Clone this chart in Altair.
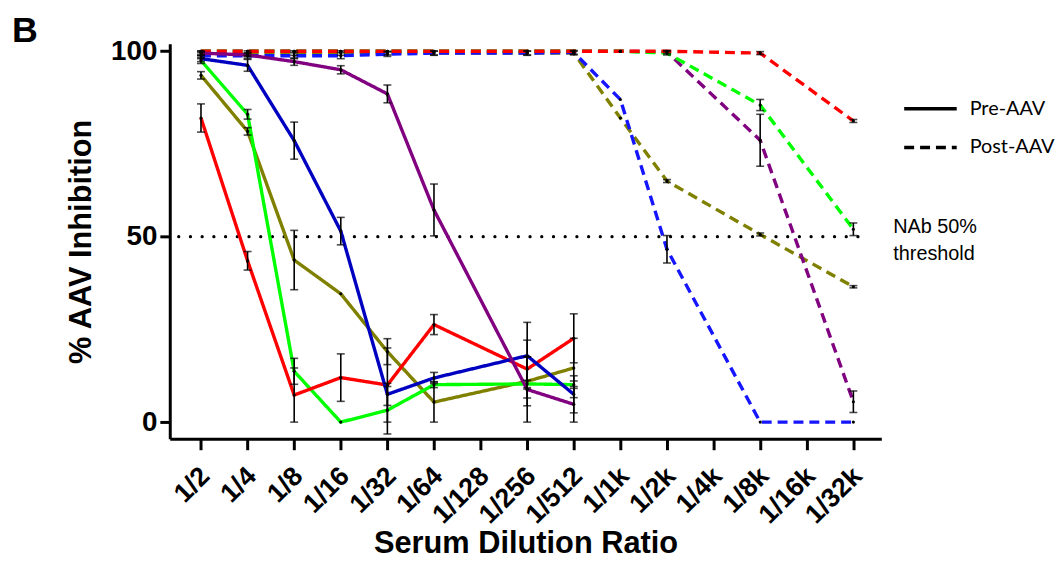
import json
import altair as alt
import pandas as pd

# ---------------- data ----------------
labels = ["1/2", "1/4", "1/8", "1/16", "1/32", "1/64", "1/128", "1/256", "1/512",
          "1/1k", "1/2k", "1/4k", "1/8k", "1/16k", "1/32k"]

pre_x = ["1/2", "1/4", "1/8", "1/16", "1/32", "1/64", "1/256", "1/512"]
pre_red = [82, 43.5, 7.3, 12, 10, 26.3, 14.3, 22.6]
pre_red_err = [3.8, 2.5, 7.3, 6.4, 10, 2.7, 7.8, 6.6]
pre_green = [97.5, 83, 13.7, 0, 3.2, 10.1, 10.3, 10.1]
pre_green_err = [0.8, 1.3, 3.5, 0, 6.4, 0.8, 1, 1]
pre_blue = [98, 96.2, 75.9, 51.5, 7.5, 11.9, 17.9, 7.5]
pre_blue_err = [0.8, 1.6, 5, 3.7, 3, 1.5, 9, 5]
pre_purple = [99.5, 99, 97.2, 95, 88.5, 57.2, 8.8, 4.8]
pre_purple_err = [0.5, 0.5, 1, 1.1, 2.4, 7, 8.8, 4.8]
pre_olive = [93.5, 78.4, 43.7, 34.6, 19, 5.4, 11, 14.6]
pre_olive_err = [1, 1, 8, 0, 3.5, 5.4, 6.6, 8]

post_x = ["1/2", "1/4", "1/8", "1/16", "1/32", "1/64", "1/256", "1/512",
          "1/1k", "1/2k", "1/8k", "1/32k"]
post_red = [100, 100, 100, 100, 100, 100, 100, 100, 100, 100, 99.5, 81.2]
post_red_err = [0, 0, 0, 0, 0, 0, 0, 0, 0, 0, 0.4, 0.4]
post_green = [100, 100, 100, 100, 100, 100, 100, 100, 100, 99.5, 85.5, 52]
post_green_err = [0, 0, 0, 0, 0, 0, 0, 0, 0, 0.5, 1.5, 1.7]
post_blue = [98.8, 98.8, 98.8, 98.8, 99.2, 99.5, 99.5, 99.7, 87, 46.6, 0, 0]
post_blue_err = [0.8, 0.8, 0.8, 0.8, 0.6, 0.6, 0.6, 0.5, 0, 3.7, 0, 0]
post_purple = [100, 100, 100, 100, 100, 100, 100, 100, 100, 99.8, 76, 5.5]
post_purple_err = [0, 0, 0, 0, 0, 0, 0, 0, 0, 0.4, 7, 2.9]
post_olive = [99.5, 99.5, 99.5, 99.5, 99.5, 99.5, 99.5, 99.5, 82, 65, 50.6, 36.5]
post_olive_err = [0.6, 0.6, 0.6, 0.6, 0.5, 0.5, 0.5, 0.5, 0, 0.4, 0.4, 0.3]

threshold = [50]
phases = ["Pre-AAV", "Post-AAV"]

series_keys = ["olive|Post-AAV", "blue|Post-AAV", "purple|Post-AAV", "green|Post-AAV", "red|Post-AAV",
               "olive|Pre-AAV", "green|Pre-AAV", "red|Pre-AAV", "blue|Pre-AAV", "purple|Pre-AAV"]
series_colors = ["#808000", "#1515FF", "#800080", "#00FF00", "#FF0000",
                 "#808000", "#00FF00", "#FF0000", "#0000C0", "#800080"]

# ---------------- table ----------------
rows = []
post = {"olive": (post_olive, post_olive_err), "blue": (post_blue, post_blue_err),
        "purple": (post_purple, post_purple_err), "green": (post_green, post_green_err),
        "red": (post_red, post_red_err)}
pre = {"olive": (pre_olive, pre_olive_err), "green": (pre_green, pre_green_err),
       "red": (pre_red, pre_red_err), "blue": (pre_blue, pre_blue_err),
       "purple": (pre_purple, pre_purple_err)}
for name, (vals, errs) in post.items():
    for xl, v, e in zip(post_x, vals, errs):
        rows.append(dict(series=name + "|Post-AAV", phase="Post-AAV", dil=xl,
                         idx=labels.index(xl), value=v, err=e, lo=v - e, hi=v + e))
for name, (vals, errs) in pre.items():
    for xl, v, e in zip(pre_x, vals, errs):
        rows.append(dict(series=name + "|Pre-AAV", phase="Pre-AAV", dil=xl,
                         idx=labels.index(xl), value=v, err=e, lo=v - e, hi=v + e))
df = pd.DataFrame(rows)
df_err = df[df["err"] > 0]

FONT = "Liberation Sans"
W, H = 717, 398

xscale = alt.Scale(domain=[-0.67, len(labels) - 1 + 0.6], nice=False, zero=False)
yscale = alt.Scale(domain=[-4.5, 102], nice=False, zero=False)

label_expr = json.dumps(labels) + "[round(datum.value)]"

x_enc = alt.X("idx:Q", scale=xscale, title="Serum Dilution Ratio",
              axis=alt.Axis(values=list(range(len(labels))), labelExpr=label_expr,
                            labelAngle=-45, labelAlign="right", labelBaseline="middle",
                            labelFont=FONT, labelFontSize=27, labelFontWeight="bold",
                            labelColor="black", labelPadding=22, labelOffset=4,
                            labelOverlap=False, labelFlush=False, labelBound=False,
                            titleFont=FONT, titleFontSize=31, titleFontWeight="bold",
                            titleColor="black", titlePadding=1,
                            domainColor="black", domainWidth=3, tickColor="black",
                            tickWidth=3, tickSize=11, grid=False))
y_enc = alt.Y("value:Q", scale=yscale, title="% AAV Inhibition",
              axis=alt.Axis(values=[0, 50, 100], labelFont=FONT, labelFontSize=28,
                            labelFontWeight="bold", labelColor="black", labelPadding=3,
                            titleFont=FONT, titleFontSize=31, titleFontWeight="bold",
                            titleColor="black", titlePadding=13,
                            domainColor="black", domainWidth=3, tickColor="black",
                            tickWidth=3, tickSize=10, grid=False))

base = alt.Chart(df)

thr = alt.Chart(pd.DataFrame({"t": threshold})).mark_rule(
    color="black", strokeWidth=3.2, strokeDash=[0.1, 11.7], strokeCap="round"
).encode(y=alt.Y("t:Q", scale=yscale), x=alt.value(9), x2=alt.value(697))

lines = base.mark_line(strokeWidth=3.4).encode(
    x=x_enc, y=y_enc,
    color=alt.Color("series:N", scale=alt.Scale(domain=series_keys, range=series_colors), legend=None),
    strokeDash=alt.StrokeDash("phase:N", scale=alt.Scale(domain=phases, range=[[1, 0], [10, 6]]),
                              legend=alt.Legend(title=None, orient="none", legendX=738, legendY=37,
                                                symbolType="stroke", symbolSize=2800,
                                                symbolStrokeWidth=3.5, symbolStrokeColor="black",
                                                labelFont="Lato", labelFontSize=20, labelColor="black",
                                                labelOffset=11, rowPadding=-14, padding=0)),
    order=alt.Order("idx:Q"),
)

xq = alt.X("idx:Q", scale=xscale)
err_rule = alt.Chart(df_err).mark_rule(color="black", strokeWidth=1.6).encode(
    x=xq, y=alt.Y("lo:Q", scale=yscale), y2="hi:Q")
err_lo = alt.Chart(df_err).mark_tick(color="black", thickness=1.6, size=8, orient="horizontal").encode(
    x=xq, y=alt.Y("lo:Q", scale=yscale))
err_hi = alt.Chart(df_err).mark_tick(color="black", thickness=1.6, size=8, orient="horizontal").encode(
    x=xq, y=alt.Y("hi:Q", scale=yscale))
pts = base.mark_circle(color="black", size=10, opacity=1).encode(
    x=xq, y=alt.Y("value:Q", scale=yscale))

nab = alt.Chart(pd.DataFrame({"a": [0]})).mark_text(
    text=["NAb 50%", "threshold"], font=FONT, fontSize=20, color="black",
    align="left", baseline="alphabetic", lineHeight=26.5
).encode(x=alt.value(729), y=alt.value(191))

letter = alt.Chart(pd.DataFrame({"a": [0]})).mark_text(
    text="B", font=FONT, fontSize=36, fontWeight="bold", color="black",
    align="left", baseline="alphabetic"
).encode(x=alt.value(-159), y=alt.value(-2))

chart = alt.layer(thr, lines, err_rule, err_lo, err_hi, pts, nab, letter).properties(
    width=W, height=H,
    background="white",
    autosize=alt.AutoSizeParams(type="none"),
    padding={"left": 163, "top": 34, "right": 175, "bottom": 118},
).configure_view(stroke=None)

chart.save("out.html", embed_options={"renderer": "svg", "actions": False})
